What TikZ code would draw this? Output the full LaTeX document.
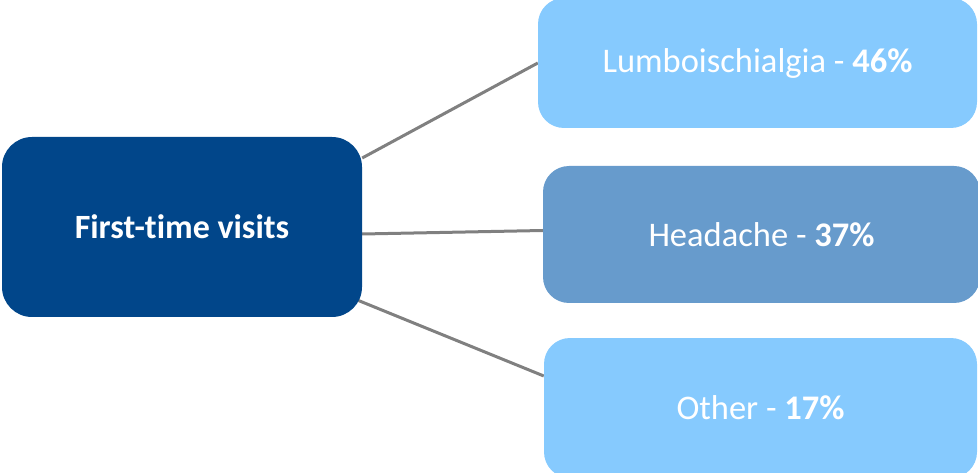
\documentclass[tikz,border=0pt]{standalone}
\usepackage{fontspec}
\setmainfont[Ligatures=NoCommon]{Carlito}
\usetikzlibrary{backgrounds}
\definecolor{darkblue}{RGB}{1,70,138}
\definecolor{lightblue}{RGB}{134,202,254}
\definecolor{midblue}{RGB}{103,155,204}
\definecolor{linegray}{RGB}{128,128,128}
\tikzset{
  box/.style={rectangle, rounded corners=26pt, inner sep=0pt, text=white,
    font=\fontsize{34.5}{40}\selectfont},
  link/.style={draw=linegray, line width=3pt}
}
\begin{document}
\begin{tikzpicture}[x=1pt,y=-1pt]
\useasboundingbox (0,0) rectangle (978,473);
\clip (0,0) rectangle (978,473);
\node[box, fill=darkblue, minimum width=360pt, minimum height=180pt, rounded corners=30pt, font=\fontsize{34}{40}\selectfont\bfseries] (c) at (182,227) {\raisebox{-2pt}{First-time visits}};
\node[box, fill=lightblue, minimum width=439pt, minimum height=130pt] (a) at (757.5,63) {\raisebox{-2pt}{Lumboischialgia - \textbf{46\%}}};
\node[box, fill=midblue, minimum width=437pt, minimum height=137pt] (b) at (761.5,234.5) {\raisebox{-1pt}{Headache - \textbf{37\%}}};
\node[box, fill=lightblue, minimum width=433pt, minimum height=140pt] (d) at (760.5,408) {Other - \textbf{17\%}};
\begin{scope}[on background layer]
\draw[link] ([yshift=69pt]c.east) -- (a.west);
\draw[link] ([yshift=-7pt]c.east) -- ([yshift=4pt]b.west);
\draw[link] ([xshift=-5pt,yshift=-73pt]c.east) -- ([yshift=32pt]d.west);
\end{scope}
\end{tikzpicture}
\end{document}
